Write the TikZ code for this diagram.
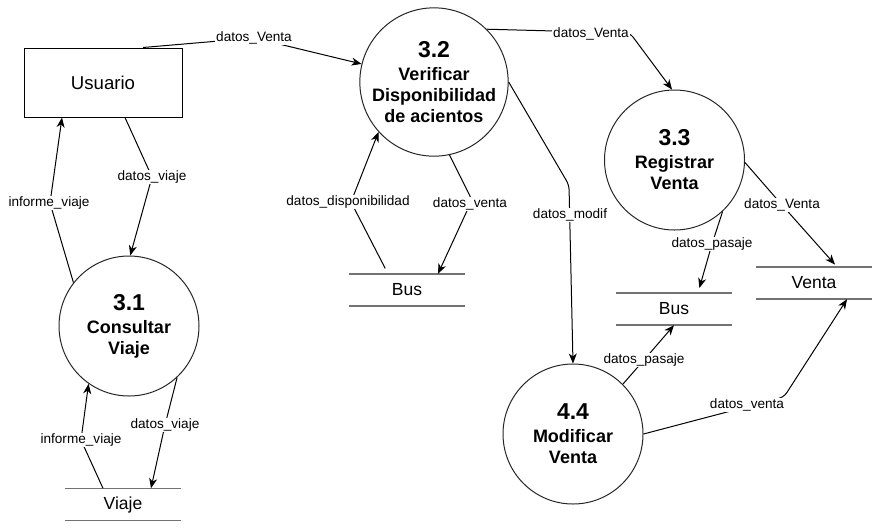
\documentclass[tikz,border=0pt]{standalone}
\usepackage{fontspec}
\setmainfont{Liberation Sans}
\usetikzlibrary{arrows.meta}
\begin{document}
\begin{tikzpicture}[x=1pt,y=-1pt,
  proc/.style={circle,draw=black!85,line width=1pt,minimum size=140pt,inner sep=0pt,align=center,font=\fontsize{18}{21}\selectfont\bfseries},
  ent/.style={rectangle,draw=black,line width=1pt,minimum width=158pt,minimum height=69pt,inner sep=0pt,font=\fontsize{18.6}{21}\selectfont},
  store/.style={rectangle,minimum width=116pt,minimum height=32pt,inner sep=0pt,font=\fontsize{17.5}{20}\selectfont},
  sline/.style={draw=black!55,line width=1.5pt},
  flow/.style={draw=black,line width=1pt,rounded corners=5pt,-{Stealth[length=10pt,width=8pt,inset=3pt]}},
  lbl/.style={fill=white,inner sep=1pt,font=\fontsize{13.6}{15}\selectfont}]
\useasboundingbox (0,0) rectangle (881,531);

% entity
\node[ent] (u) at (103,82.5) {Usuario};

% processes
\node[proc] (c32) at (434,82) {{\fontsize{23}{25}\selectfont 3.2}\\[2pt]Verificar\\Disponibilidad\\de acientos};
\node[proc] (c31) at (129,326) {{\fontsize{23}{25}\selectfont 3.1}\\[2pt]Consultar\\Viaje};
\node[proc] (c33) at (674.5,160) {{\fontsize{23}{25}\selectfont 3.3}\\[2pt]Registrar\\Venta};
\node[proc] (c44) at (573,434) {{\fontsize{23}{25}\selectfont 4.4}\\[2pt]Modificar\\Venta};

% stores
\node[store] (viaje) at (123,504.5) {Viaje};
\node[store] (busL) at (407,290) {Bus};
\node[store] (busR) at (674,309) {Bus};
\node[store] (venta) at (814,283) {Venta};
\foreach \s in {viaje,busL,busR,venta}{
  \draw[sline] (\s.north west) -- (\s.north east);
  \draw[sline] (\s.south west) -- (\s.south east);
}

% waypoints
\coordinate (w1) at (254,38);
\coordinate (w2) at (630,33);
\coordinate (w3) at (152,177);
\coordinate (w4) at (50,203);
\coordinate (w5) at (165,425);
\coordinate (w6) at (81,440);
\coordinate (w7) at (351,202);
\coordinate (w8) at (472,200);
\coordinate (w9) at (569,185);
\coordinate (w10) at (782,205);
\coordinate (w11) at (712,244);
\coordinate (w12) at (644,360);
\coordinate (w13) at (784,397);

% flows
\draw[flow] ([xshift=40pt]u.north) -- (w1) -- (c32.166);
\draw[flow] (c32.45) -- (w2) -- (c33.92);
\draw[flow] ([xshift=22pt]u.south) -- (w3) -- (c31.89);
\draw[flow] (c31.142) -- (w4) -- ([xshift=-41pt]u.south);
\draw[flow] (c31.-47) -- (w5) -- ([xshift=28pt]viaje.north);
\draw[flow] ([xshift=-20pt]viaje.north) -- (w6) -- (c31.-125);
\draw[flow,shorten <=6pt] ([xshift=-19pt]busL.north) -- (w7) -- (c32.-138);
\draw[flow] (c32.-78) -- (w8) -- ([xshift=31pt]busL.north);
\draw[flow] (c32.0) -- (w9) -- (c44.north);
\draw[flow,shorten >=3pt] (c33.-2) -- (w10) -- ([xshift=23pt]venta.north);
\draw[flow,shorten >=5pt] (c33.-47) -- (w11) -- ([xshift=24pt]busR.north);
\draw[flow] (c44.45) -- (w12) -- (busR.south);
\draw[flow] (c44.0) -- (w13) -- ([xshift=33pt]venta.south);

% labels
\node[lbl] (l1) at (254,38) {datos\_Venta};
\node[lbl] (l2) at (591,34) {datos\_Venta};
\node[lbl] (l3) at (152,177) {datos\_viaje};
\node[lbl] (l4) at (49,203) {informe\_viaje};
\node[lbl] (l5) at (165,425) {datos\_viaje};
\node[lbl] (l6) at (81,440) {informe\_viaje};
\node[lbl] (l7) at (348,202) {datos\_disponibilidad};
\node[lbl] (l8) at (470,204) {datos\_venta};
\node[lbl] (l9) at (570,215) {datos\_modif};
\node[lbl] (l10) at (782,205) {datos\_Venta};
\node[lbl] (l11) at (712,244) {datos\_pasaje};
\node[lbl] (l12) at (644,360) {datos\_pasaje};
\node[lbl] (l13) at (747,405) {datos\_venta};
\end{tikzpicture}
\end{document}
